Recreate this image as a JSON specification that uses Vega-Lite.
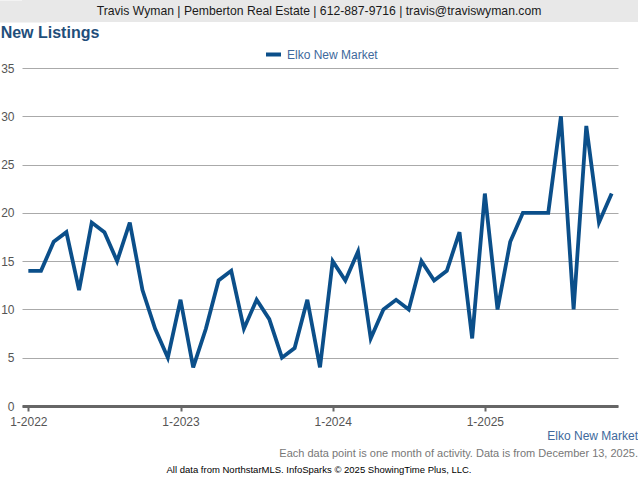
{
  "$schema": "https://vega.github.io/schema/vega-lite/v6.json",
  "padding": 0,
  "background": "white",
  "spacing": 3,
  "align": "none",
  "resolve": {"legend": {"color": "independent"}},
  "config": {
    "view": {"stroke": null},
    "font": "Liberation Sans",
    "title": {"font": "Liberation Sans", "subtitleFont": "Liberation Sans"},
    "axis": {"labelFont": "Liberation Sans", "titleFont": "Liberation Sans"},
    "legend": {"labelFont": "Liberation Sans"}
  },
  "vconcat": [
    {
      "width": 616,
      "height": 22,
      "view": {"fill": "#e8e8e8", "stroke": null},
      "data": {"values": [{"t": "Travis Wyman | Pemberton Real Estate | 612-887-9716 | travis@traviswyman.com"}]},
      "mark": {"type": "text", "fontSize": 12.2, "color": "#1a1a1a", "dx": -11},
      "encoding": {
        "text": {"field": "t"},
        "y": {
          "field": "t", "type": "nominal",
          "axis": {"title": null, "labels": false, "ticks": false, "grid": false, "domain": true, "domainColor": "#e8e8e8", "domainWidth": 48}
        }
      }
    },
    {
      "width": 596,
      "height": 338,
      "title": {"text": "New Listings", "anchor": "start", "fontSize": 16, "fontWeight": "bold", "color": "#1f4e7a", "offset": 4},
      "data": {"values": [
        {"month": "1-2022", "value": 14, "series": "Elko New Market"},
        {"month": "2-2022", "value": 14, "series": "Elko New Market"},
        {"month": "3-2022", "value": 17, "series": "Elko New Market"},
        {"month": "4-2022", "value": 18, "series": "Elko New Market"},
        {"month": "5-2022", "value": 12, "series": "Elko New Market"},
        {"month": "6-2022", "value": 19, "series": "Elko New Market"},
        {"month": "7-2022", "value": 18, "series": "Elko New Market"},
        {"month": "8-2022", "value": 15, "series": "Elko New Market"},
        {"month": "9-2022", "value": 19, "series": "Elko New Market"},
        {"month": "10-2022", "value": 12, "series": "Elko New Market"},
        {"month": "11-2022", "value": 8, "series": "Elko New Market"},
        {"month": "12-2022", "value": 5, "series": "Elko New Market"},
        {"month": "1-2023", "value": 11, "series": "Elko New Market"},
        {"month": "2-2023", "value": 4, "series": "Elko New Market"},
        {"month": "3-2023", "value": 8, "series": "Elko New Market"},
        {"month": "4-2023", "value": 13, "series": "Elko New Market"},
        {"month": "5-2023", "value": 14, "series": "Elko New Market"},
        {"month": "6-2023", "value": 8, "series": "Elko New Market"},
        {"month": "7-2023", "value": 11, "series": "Elko New Market"},
        {"month": "8-2023", "value": 9, "series": "Elko New Market"},
        {"month": "9-2023", "value": 5, "series": "Elko New Market"},
        {"month": "10-2023", "value": 6, "series": "Elko New Market"},
        {"month": "11-2023", "value": 11, "series": "Elko New Market"},
        {"month": "12-2023", "value": 4, "series": "Elko New Market"},
        {"month": "1-2024", "value": 15, "series": "Elko New Market"},
        {"month": "2-2024", "value": 13, "series": "Elko New Market"},
        {"month": "3-2024", "value": 16, "series": "Elko New Market"},
        {"month": "4-2024", "value": 7, "series": "Elko New Market"},
        {"month": "5-2024", "value": 10, "series": "Elko New Market"},
        {"month": "6-2024", "value": 11, "series": "Elko New Market"},
        {"month": "7-2024", "value": 10, "series": "Elko New Market"},
        {"month": "8-2024", "value": 15, "series": "Elko New Market"},
        {"month": "9-2024", "value": 13, "series": "Elko New Market"},
        {"month": "10-2024", "value": 14, "series": "Elko New Market"},
        {"month": "11-2024", "value": 18, "series": "Elko New Market"},
        {"month": "12-2024", "value": 7, "series": "Elko New Market"},
        {"month": "1-2025", "value": 22, "series": "Elko New Market"},
        {"month": "2-2025", "value": 10, "series": "Elko New Market"},
        {"month": "3-2025", "value": 17, "series": "Elko New Market"},
        {"month": "4-2025", "value": 20, "series": "Elko New Market"},
        {"month": "5-2025", "value": 20, "series": "Elko New Market"},
        {"month": "6-2025", "value": 20, "series": "Elko New Market"},
        {"month": "7-2025", "value": 30, "series": "Elko New Market"},
        {"month": "8-2025", "value": 10, "series": "Elko New Market"},
        {"month": "9-2025", "value": 29, "series": "Elko New Market"},
        {"month": "10-2025", "value": 19, "series": "Elko New Market"},
        {"month": "11-2025", "value": 22, "series": "Elko New Market"}
      ]},
      "mark": {"type": "line", "strokeWidth": 3.8},
      "encoding": {
        "x": {
          "field": "month", "type": "ordinal", "sort": null,
          "scale": {"type": "point", "padding": 0.5},
          "axis": {
            "values": ["1-2022", "1-2023", "1-2024", "1-2025"],
            "title": null, "labelAngle": 0, "grid": false,
            "domainColor": "#666", "domainWidth": 3,
            "tickColor": "#666", "tickWidth": 2, "tickSize": 5,
            "labelColor": "#555", "labelFontSize": 12, "labelPadding": 5
          }
        },
        "y": {
          "field": "value", "type": "quantitative",
          "scale": {"domain": [0, 35]},
          "axis": {
            "values": [0, 5, 10, 15, 20, 25, 30, 35],
            "title": null, "domain": false, "ticks": false,
            "grid": true, "gridColor": "#aaa", "gridWidth": 1,
            "labelColor": "#555", "labelFontSize": 12, "labelPadding": 8
          }
        },
        "color": {
          "field": "series", "type": "nominal",
          "scale": {"range": ["#0b4f8a"]},
          "legend": {
            "title": null, "orient": "none", "legendX": 242, "legendY": -23,
            "symbolType": "stroke", "symbolSize": 225, "symbolStrokeWidth": 4,
            "labelFontSize": 12, "labelColor": "#40699c", "labelOffset": 4
          }
        }
      }
    },
    {
      "width": 616,
      "height": 20,
      "title": {
        "text": "Elko New Market",
        "subtitle": "Each data point is one month of activity. Data is from December 13, 2025.",
        "anchor": "end", "frame": "group",
        "fontSize": 12, "fontWeight": "normal", "color": "#40699c",
        "subtitleColor": "#777", "subtitleFontSize": 11, "subtitlePadding": 5,
        "offset": 2, "dx": 0
      },
      "data": {"values": [{"t": "All data from NorthstarMLS. InfoSparks © 2025 ShowingTime Plus, LLC."}]},
      "mark": {"type": "text", "fontSize": 9.5, "color": "#000", "dx": -11, "dy": -2},
      "encoding": {"text": {"field": "t"}}
    }
  ]
}
